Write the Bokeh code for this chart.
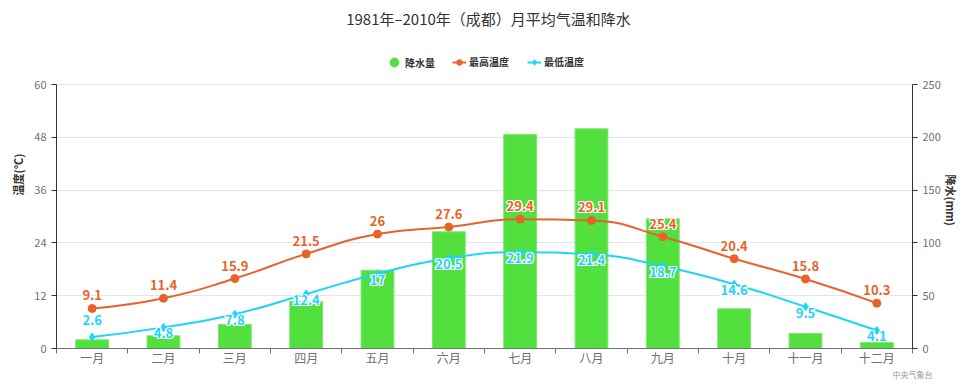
import math
from bokeh.plotting import figure
from bokeh.models import Range1d, LinearAxis, FixedTicker, Legend, LegendItem, Label
from bokeh.core.properties import value
from bokeh.embed import file_html
from bokeh.resources import INLINE

TITLE = "1981年–2010年（成都）月平均气温和降水"
SOURCE = "中央气象台"
months = ["一月", "二月", "三月", "四月", "五月", "六月",
          "七月", "八月", "九月", "十月", "十一月", "十二月"]
rain = [8.2, 12.0, 22.7, 44.5, 74.0, 110.5, 202.7, 208.0, 122.8, 37.6, 14.2, 5.7]
tmax = [9.1, 11.4, 15.9, 21.5, 26, 27.6, 29.4, 29.1, 25.4, 20.4, 15.8, 10.3]
tmin = [2.6, 4.8, 7.8, 12.4, 17, 20.5, 21.9, 21.4, 18.7, 14.6, 9.5, 4.1]
temp_ticks = [0, 12, 24, 36, 48, 60]
rain_ticks = [0, 50, 100, 150, 200, 250]

FONT = "Noto Sans CJK SC"
GREEN = "#52e03e"
ORANGE = "#e8622a"
CYAN = "#1cd6f7"

# layout (figure pixels; the page places the figure at its top-left corner)
W, H = 979, 391
ML, MR, MT, MB = 56, 67, 0, 43
FW, FH = W - ML - MR, H - MT - MB
AXIS_PX = 264                      # pixel height of the 0..60 axis span
t_top = temp_ticks[-1] * FH / AXIS_PX
r_top = rain_ticks[-1] * FH / AXIS_PX

idx = list(range(len(months)))
sx = FW / len(months)
sy = FH / t_top

p = figure(width=W, height=H, output_backend="svg", toolbar_location=None,
           x_range=Range1d(-0.5, len(months) - 0.5), y_range=Range1d(0, t_top),
           min_border_left=ML, min_border_right=MR, min_border_top=MT, min_border_bottom=MB,
           outline_line_color=None, background_fill_color="white")
p.extra_y_ranges = {"rain": Range1d(0, r_top)}

# grid
p.xgrid.visible = False
p.ygrid.ticker = FixedTicker(ticks=temp_ticks)
p.ygrid.grid_line_color = "#e0e6f1"

# x axis
xa = p.xaxis[0]
xa.ticker = FixedTicker(ticks=idx, minor_ticks=[i - 0.5 for i in range(len(months) + 1)])
xa.major_label_overrides = {i: m for i, m in enumerate(months)}
xa.major_tick_out = 0
xa.major_tick_in = 0
xa.minor_tick_out = 5
xa.minor_tick_in = 0
xa.minor_tick_line_color = "#6e7079"
xa.axis_line_color = "#6e7079"
xa.major_label_text_color = "#6e7079"
xa.major_label_text_font = FONT
xa.major_label_text_font_size = "12px"
xa.major_label_standoff = -5
xa.axis_label = SOURCE
xa.axis_label_text_font = FONT
xa.axis_label_text_font_size = "8px"
xa.axis_label_text_font_style = "normal"
xa.axis_label_text_color = "#999999"
xa.axis_label_standoff = 0
if "axis_label_align" in xa.properties():
    xa.axis_label_align = "end"

# left axis
ya = p.yaxis[0]
ya.ticker = FixedTicker(ticks=temp_ticks)
ya.bounds = (temp_ticks[0], temp_ticks[-1])
ya.axis_label = "温度(°C)"
ya.axis_line_color = "#333333"
ya.major_tick_line_color = "#333333"
ya.major_tick_out = 5
ya.major_tick_in = 0
ya.minor_tick_line_color = None
ya.major_label_text_color = "#6e7079"
ya.major_label_text_font = FONT
ya.major_label_text_font_size = "11px"
ya.axis_label_text_font = FONT
ya.axis_label_text_font_size = "11px"
ya.axis_label_text_font_style = "bold"
ya.axis_label_text_color = "#333333"
ya.axis_label_standoff = 5

# right axis
ra = LinearAxis(y_range_name="rain", ticker=FixedTicker(ticks=rain_ticks),
                axis_label="降水(mm)", bounds=(rain_ticks[0], rain_ticks[-1]))
ra.axis_line_color = "#333333"
ra.major_tick_line_color = "#333333"
ra.major_tick_out = 5
ra.major_tick_in = 0
ra.minor_tick_line_color = None
ra.major_label_text_color = "#6e7079"
ra.major_label_text_font = FONT
ra.major_label_text_font_size = "11px"
ra.axis_label_text_font = FONT
ra.axis_label_text_font_size = "11px"
ra.axis_label_text_font_style = "bold"
ra.axis_label_text_color = "#333333"
ra.axis_label_standoff = 7
ra.axis_label_orientation = -math.pi / 2
p.add_layout(ra, "right")

# bars
p.vbar(x=idx, top=rain, width=0.46, y_range_name="rain",
       fill_color=GREEN, line_color="#7be86c", line_width=1)


# smooth line (echarts-like control points computed in pixel space)
def smooth_segments(xs, ys, smooth=0.5):
    P = [(x * sx, y * sy) for x, y in zip(xs, ys)]
    n = len(P)
    out = {k: [] for k in ["x0", "y0", "x1", "y1", "cx0", "cy0", "cx1", "cy1"]}
    cp0 = P[0]
    for i in range(1, n):
        x, y = P[i]
        px_, py_ = P[i - 1]
        if i == n - 1:
            cp1 = (x, y)
            nxt = None
        else:
            nx, ny = P[i + 1]
            vx, vy = nx - px_, ny - py_
            d0 = math.hypot(x - px_, y - py_)
            d1 = math.hypot(nx - x, ny - y)
            r = d1 / (d0 + d1)
            ncx, ncy = x + vx * smooth * r, y + vy * smooth * r
            ncx = max(min(ncx, max(nx, x)), min(nx, x))
            ncy = max(min(ncy, max(ny, y)), min(ny, y))
            vx, vy = ncx - x, ncy - y
            c1x, c1y = x - vx * d0 / d1, y - vy * d0 / d1
            c1x = max(min(c1x, max(px_, x)), min(px_, x))
            c1y = max(min(c1y, max(py_, y)), min(py_, y))
            vx, vy = x - c1x, y - c1y
            ncx, ncy = x + vx * d1 / d0, y + vy * d1 / d0
            cp1 = (c1x, c1y)
            nxt = (ncx, ncy)
        out["x0"].append(px_ / sx); out["y0"].append(py_ / sy)
        out["x1"].append(x / sx); out["y1"].append(y / sy)
        out["cx0"].append(cp0[0] / sx); out["cy0"].append(cp0[1] / sy)
        out["cx1"].append(cp1[0] / sx); out["cy1"].append(cp1[1] / sy)
        cp0 = nxt
    return out


line_r = {}
for name, series, col in [("max", tmax, ORANGE), ("min", tmin, CYAN)]:
    s = smooth_segments(idx, series)
    line_r[name] = p.bezier(x0=s["x0"], y0=s["y0"], x1=s["x1"], y1=s["y1"],
                            cx0=s["cx0"], cy0=s["cy0"], cx1=s["cx1"], cy1=s["cy1"],
                            line_color=col, line_width=2)

mk_max = p.scatter(x=idx, y=tmax, marker="circle", size=8, fill_color=ORANGE, line_color=ORANGE)
mk_min = p.scatter(x=idx, y=tmin, marker="diamond", size=8, fill_color=CYAN, line_color=CYAN)
# legend proxy for the bars (zero-size markers; legend draws its own size)
rain_proxy = p.scatter(x=idx, y=rain, y_range_name="rain", marker="circle", size=0,
                       fill_color=GREEN, line_color=GREEN)


# data labels with a thin white halo
def halo_text(xs, ys, vals, color, yoff):
    texts = [f"{v:g}" for v in vals]
    common = dict(text_align="center", text_baseline="middle", text_font=value(FONT),
                  text_font_size="13px", text_font_style="bold")
    for dx, dy in [(-1, 0), (1, 0), (0, -1), (0, 1), (-1, -1), (1, 1), (-1, 1), (1, -1)]:
        p.text(x=xs, y=ys, text=texts, x_offset=dx, y_offset=[o + dy for o in yoff],
               text_color="white", **common)
    p.text(x=xs, y=ys, text=texts, y_offset=yoff, text_color=color, **common)


halo_text(idx, tmax, tmax, ORANGE, [-13] * len(tmax))
halo_text(idx, tmin, tmin, CYAN, [-17] + [6] * (len(tmin) - 1))

# title (drawn inside the top of the frame)
p.add_layout(Label(x=(432 / sx) - 0.5, y=(FH - 18) / sy, text=TITLE,
                   text_align="center", text_baseline="middle", text_font=FONT,
                   text_font_size="15px", text_color="#333333"))

# legends (two, so the bar item can have a larger circle); location = bottom-left
leg_common = dict(orientation="horizontal", label_text_font=FONT, label_text_font_size="10px",
                  label_text_font_style="bold", label_text_color="#333333",
                  border_line_color=None, background_fill_alpha=0, margin=0, padding=0)
leg_a = Legend(items=[LegendItem(label="降水量", renderers=[rain_proxy])],
               location=(327, FH - 73), glyph_width=22, glyph_height=22,
               label_height=22, label_standoff=0, spacing=0, **leg_common)
leg_b = Legend(items=[
    LegendItem(label="最高温度", renderers=[line_r["max"], mk_max]),
    LegendItem(label="最低温度", renderers=[line_r["min"], mk_min]),
], location=(396, FH - 69), glyph_width=14, glyph_height=14, label_height=14,
    label_standoff=3, spacing=18, **leg_common)
p.add_layout(leg_a, "center")
p.add_layout(leg_b, "center")

open("out.html", "w").write(file_html(p, INLINE))
